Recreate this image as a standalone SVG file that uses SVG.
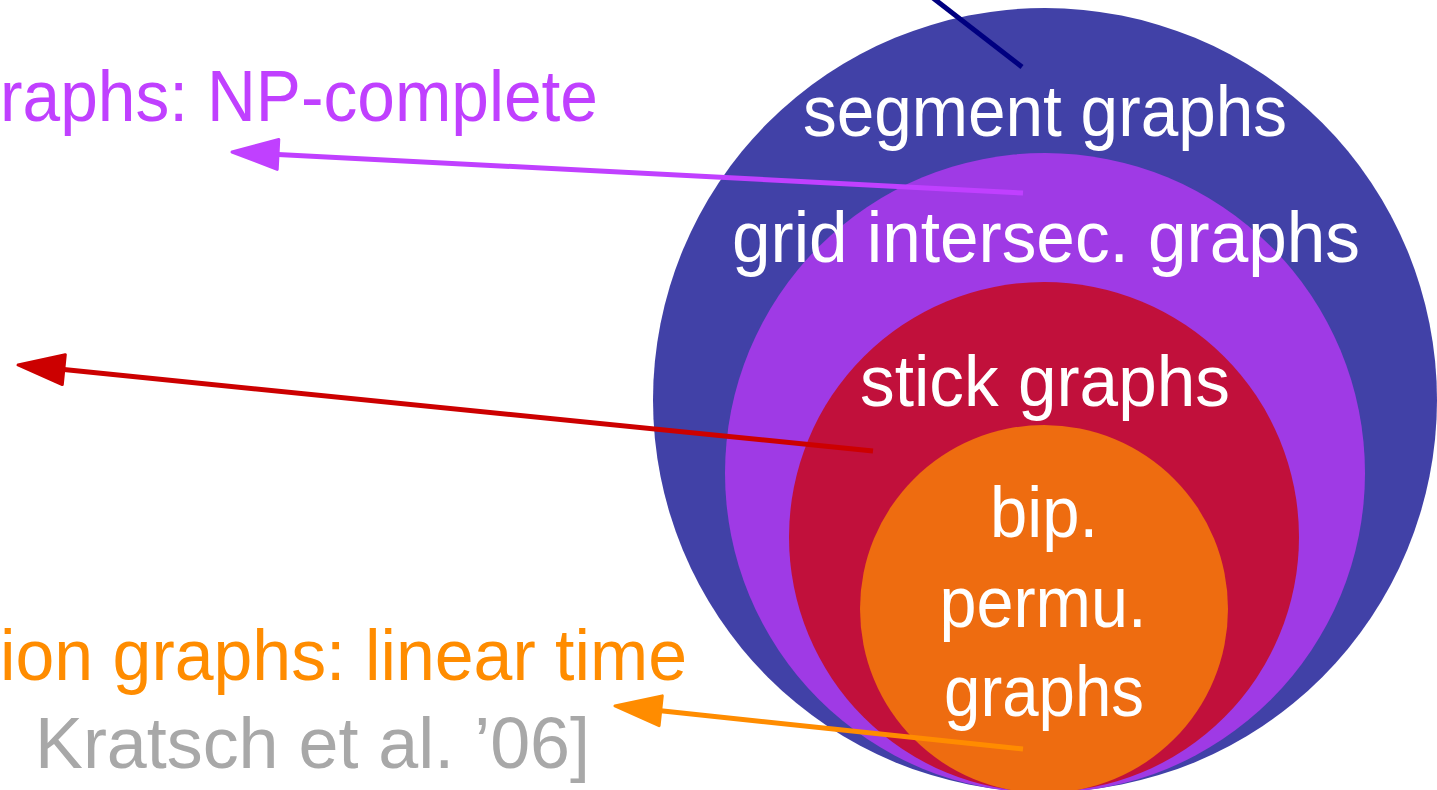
<svg xmlns="http://www.w3.org/2000/svg" width="1437" height="790" viewBox="0 0 1437 790">
<style>
text{font-family:"Liberation Sans",Arial,sans-serif;font-size:72px;lengthAdjust:spacingAndGlyphs}
.w{fill:#ffffff;text-anchor:middle}
.conn{fill:none;stroke-width:5}
</style>
<defs>
<marker id="hp" markerUnits="userSpaceOnUse" viewBox="-3 -20 54 40" markerWidth="54" markerHeight="40" refX="0" refY="0" orient="auto"><path d="M0,-15 L46,0 L0,15 Z" fill="#C040FF" stroke="#C040FF" stroke-width="3" stroke-linejoin="round"/></marker>
<marker id="hr" markerUnits="userSpaceOnUse" viewBox="-3 -20 54 40" markerWidth="54" markerHeight="40" refX="0" refY="0" orient="auto"><path d="M0,-15 L46,0 L0,15 Z" fill="#CC0000" stroke="#CC0000" stroke-width="3" stroke-linejoin="round"/></marker>
<marker id="ho" markerUnits="userSpaceOnUse" viewBox="-3 -20 54 40" markerWidth="54" markerHeight="40" refX="0" refY="0" orient="auto"><path d="M0,-15 L46,0 L0,15 Z" fill="#FF8C00" stroke="#FF8C00" stroke-width="3" stroke-linejoin="round"/></marker>
</defs>
<rect width="1437" height="790" fill="#ffffff"/>
<g id="segment">
<circle cx="1045" cy="400" r="392" fill="#4141A7"/>
<text class="w" x="1045" y="136" textLength="484" lengthAdjust="spacingAndGlyphs">segment graphs</text>
</g>
<g id="grid">
<circle cx="1045" cy="473" r="320" fill="#9F3AE5"/>
<text class="w" x="1046" y="262" textLength="628" lengthAdjust="spacingAndGlyphs">grid intersec. graphs</text>
</g>
<g id="stick">
<circle cx="1044" cy="537" r="255" fill="#C1103B"/>
<text class="w" x="1045" y="406" textLength="370" lengthAdjust="spacingAndGlyphs">stick graphs</text>
</g>
<g id="bip">
<circle cx="1044" cy="609" r="184" fill="#EE6C10"/>
<text class="w" x="1044" y="537" textLength="108" lengthAdjust="spacingAndGlyphs">bip.</text>
<text class="w" x="1043" y="627" textLength="207" lengthAdjust="spacingAndGlyphs">permu.</text>
<text class="w" x="1044" y="716" textLength="200" lengthAdjust="spacingAndGlyphs">graphs</text>
</g>
<g id="labels">
<text x="598" y="121" fill="#C040FF" text-anchor="end" textLength="598" lengthAdjust="spacingAndGlyphs">raphs: NP-complete</text>
<text x="0" y="680" fill="#FF8C00" textLength="687" lengthAdjust="spacingAndGlyphs">ion graphs: linear time</text>
<text x="35" y="768" fill="#A8A8A8" textLength="555" lengthAdjust="spacingAndGlyphs">Kratsch et al. ’06]</text>
</g>
<g id="connectors">
<line class="conn" x1="1022" y1="67" x2="933" y2="-2" stroke="#000080"/>
<line class="conn" x1="1023" y1="193" x2="278" y2="154.4" stroke="#C040FF" marker-end="url(#hp)"/>
<line class="conn" x1="873" y1="451" x2="63.8" y2="369.6" stroke="#CC0000" marker-end="url(#hr)"/>
<line class="conn" x1="1023" y1="749" x2="660.7" y2="710.8" stroke="#FF8C00" marker-end="url(#ho)"/>
</g>
</svg>
